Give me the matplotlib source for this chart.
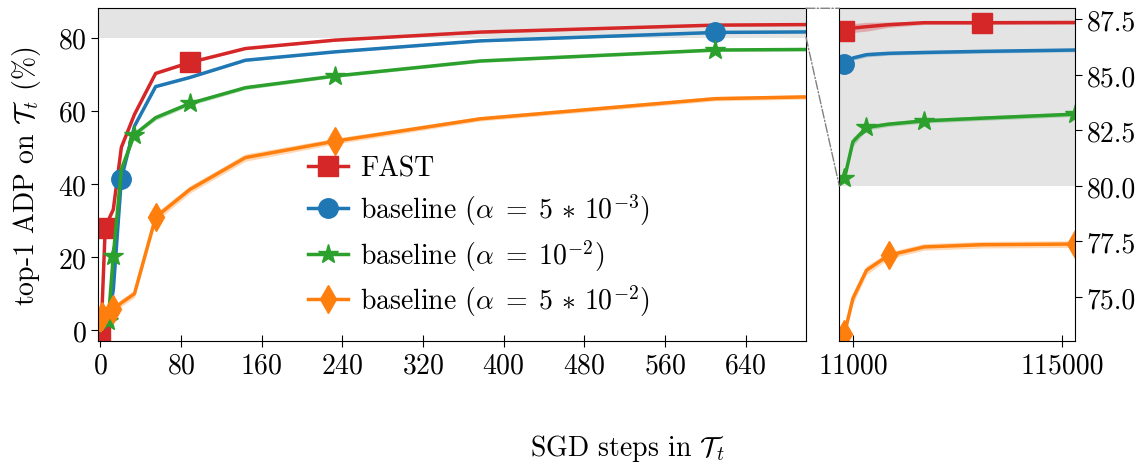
import matplotlib
matplotlib.use("Agg")
import matplotlib.pyplot as plt
from matplotlib.lines import Line2D
from matplotlib.patches import ConnectionPatch

plt.rcParams['font.family'] = ['cmr10', 'DejaVu Serif']
plt.rcParams['mathtext.fontset'] = 'cm'
plt.rcParams['axes.formatter.use_mathtext'] = True
plt.rcParams['font.size'] = 20

# ---------------- data ----------------
steps_left = [0, 1, 2, 3, 5, 8, 13, 21, 34, 55, 89, 144, 233, 377, 610, 987]
steps_right = [6765, 10946, 17711, 28657, 46368, 75025, 121393]

fast_left = [-0.5, 2, 7, 14, 28, 30, 33, 50, 59, 70.2, 73.2, 77.0, 79.3, 81.5, 83.4, 84.0]
base1_left = [0, 0.2, 0.4, 0.6, 1.0, 3.0, 11.0, 41.4, 55.8, 66.6, 69.1, 73.8, 76.1, 79.1, 81.4, 82.0]
base2_left = [0, 0.3, 0.6, 1.0, 1.5, 2.5, 20.4, 44.0, 53.5, 58.1, 62.0, 66.3, 69.5, 73.6, 76.6, 77.2]
base3_left = [0, 2.5, 4.0, 4.5, 5.0, 5.5, 5.8, 7.5, 10.0, 30.9, 38.5, 47.2, 51.7, 57.8, 63.3, 65.3]

fast_std_left = [0.2, 0.3, 0.3, 0.3, 0.3, 0.3, 0.3, 0.3, 0.3, 0.3, 0.3, 0.3, 0.3, 0.3, 0.3, 0.3]
base1_std_left = [0.2, 0.2, 0.2, 0.2, 0.3, 0.4, 0.5, 0.4, 0.3, 0.3, 0.3, 0.3, 0.3, 0.3, 0.3, 0.3]
base2_std_left = [0.2, 0.2, 0.2, 0.2, 0.3, 0.4, 0.5, 0.5, 0.5, 0.7, 0.6, 0.5, 0.4, 0.4, 0.4, 0.4]
base3_std_left = [0.3, 0.5, 0.6, 0.6, 0.7, 0.8, 0.9, 1.0, 1.0, 1.2, 1.0, 1.0, 0.8, 0.6, 0.6, 0.6]

fast_right = [86.96, 87.11, 87.17, 87.26, 87.35, 87.35, 87.36]
base1_right = [85.48, 85.76, 85.91, 85.97, 86.01, 86.06, 86.12]
base2_right = [80.34, 81.99, 82.63, 82.78, 82.93, 83.05, 83.23]
base3_right = [73.35, 74.93, 76.20, 76.87, 77.25, 77.35, 77.38]

fast_std_right = [0.15, 0.2, 0.2, 0.12, 0.08, 0.08, 0.08]
base1_std_right = [0.1, 0.1, 0.1, 0.08, 0.08, 0.08, 0.08]
base2_std_right = [0.15, 0.2, 0.12, 0.1, 0.1, 0.1, 0.1]
base3_std_right = [0.15, 0.25, 0.2, 0.15, 0.15, 0.15, 0.15]

marks_left = {
    'fast': [0, 5, 89],
    'base1': [21, 610],
    'base2': [8, 13, 34, 89, 233, 610],
    'base3': [2, 13, 55, 233],
}
marks_right = {
    'fast': [6765, 75025],
    'base1': [6765],
    'base2': [6765, 17711, 46368, 121393],
    'base3': [6765, 28657, 121393],
}

labels = ['FAST',
          r'baseline ($\alpha\;=\;5\,*\,10^{-3}$)',
          r'baseline ($\alpha\;=\;10^{-2}$)',
          r'baseline ($\alpha\;=\;5\,*\,10^{-2}$)']
keys = ['fast', 'base1', 'base2', 'base3']
colors = ['#d62728', '#1f77b4', '#2ca02c', '#ff7f0e']
markers = ['s', 'o', '*', 'd']
msizes = [14, 14, 15, 14]

left_vals = {'fast': (fast_left, fast_std_left), 'base1': (base1_left, base1_std_left),
             'base2': (base2_left, base2_std_left), 'base3': (base3_left, base3_std_left)}
right_vals = {'fast': (fast_right, fast_std_right), 'base1': (base1_right, base1_std_right),
              'base2': (base2_right, base2_std_right), 'base3': (base3_right, base3_std_right)}

left_xticks = [0, 80, 160, 240, 320, 400, 480, 560, 640]
left_yticks = [0, 20, 40, 60, 80]
right_xticks = [11000, 115000]
right_yticks = [75.0, 77.5, 80.0, 82.5, 85.0, 87.5]

# ---------------- figure ----------------
fig = plt.figure(figsize=(11.45, 4.64), dpi=100)
ax1 = fig.add_axes([0.086, 0.2623, 0.618, 0.7177])
ax2 = fig.add_axes([0.733, 0.2623, 0.2059, 0.7177])

gray = '#e4e4e4'
ax1.axhspan(80, 88, color=gray, zorder=0, lw=0)
ax2.axhspan(80, 88, color=gray, zorder=0, lw=0)

lw = 2.5
for k, c, m, ms in zip(keys, colors, markers, msizes):
    y, s = left_vals[k]
    lo = [a - b for a, b in zip(y, s)]
    hi = [a + b for a, b in zip(y, s)]
    ax1.fill_between(steps_left, lo, hi, color=c, alpha=0.3, lw=0)
    ax1.plot(steps_left, y, color=c, lw=lw)
    mx = marks_left[k]
    my = [y[steps_left.index(v)] for v in mx]
    ax1.plot(mx, my, ls='none', marker=m, ms=ms, color=c)

    y, s = right_vals[k]
    lo = [a - b for a, b in zip(y, s)]
    hi = [a + b for a, b in zip(y, s)]
    ax2.fill_between(steps_right, lo, hi, color=c, alpha=0.3, lw=0)
    ax2.plot(steps_right, y, color=c, lw=lw)
    mx = marks_right[k]
    my = [y[steps_right.index(v)] for v in mx]
    ax2.plot(mx, my, ls='none', marker=m, ms=ms, color=c)

ax1.set_xlim(-1.7, 700)
ax1.set_ylim(-3, 88)
ax1.set_xticks(left_xticks)
ax1.set_yticks(left_yticks)
ax1.tick_params(axis='x', direction='inout', length=8)
ax1.tick_params(axis='y', direction='out', length=5)

ax2.set_xlim(4181, 121393)
ax2.set_ylim(73, 88)
ax2.set_xticks(right_xticks)
ax2.set_xticklabels([str(v) for v in right_xticks])
ax2.set_yticks(right_yticks)
ax2.set_yticklabels(['%.1f' % v for v in right_yticks])
ax2.yaxis.tick_right()
ax2.tick_params(axis='x', direction='inout', length=8)
ax2.tick_params(axis='y', direction='out', length=5)

ax1.set_ylabel(r'top-1 ADP on $\mathcal{T}_t$ (%)')
ax1.yaxis.set_label_coords(-0.078, 0.5)
fig.text(0.548, 0.017, r'SGD steps in $\mathcal{T}_t$', ha='center', va='baseline')

handles = [Line2D([], [], color=c, lw=lw, marker=m, ms=ms) for c, m, ms in zip(colors, markers, msizes)]
ax1.legend(handles, labels, loc='upper left', bbox_to_anchor=(0.296, 0.558), frameon=False,
           handlelength=1.45, handletextpad=0.43, labelspacing=0.35, borderpad=0, borderaxespad=0)

for ya, yb in [(88, 88), (80, 80)]:
    con = ConnectionPatch(xyA=(700, ya), coordsA=ax1.transData,
                          xyB=(4181, yb), coordsB=ax2.transData,
                          color='gray', ls='-.', lw=1)
    fig.add_artist(con)

fig.savefig('out.png', dpi=100)
